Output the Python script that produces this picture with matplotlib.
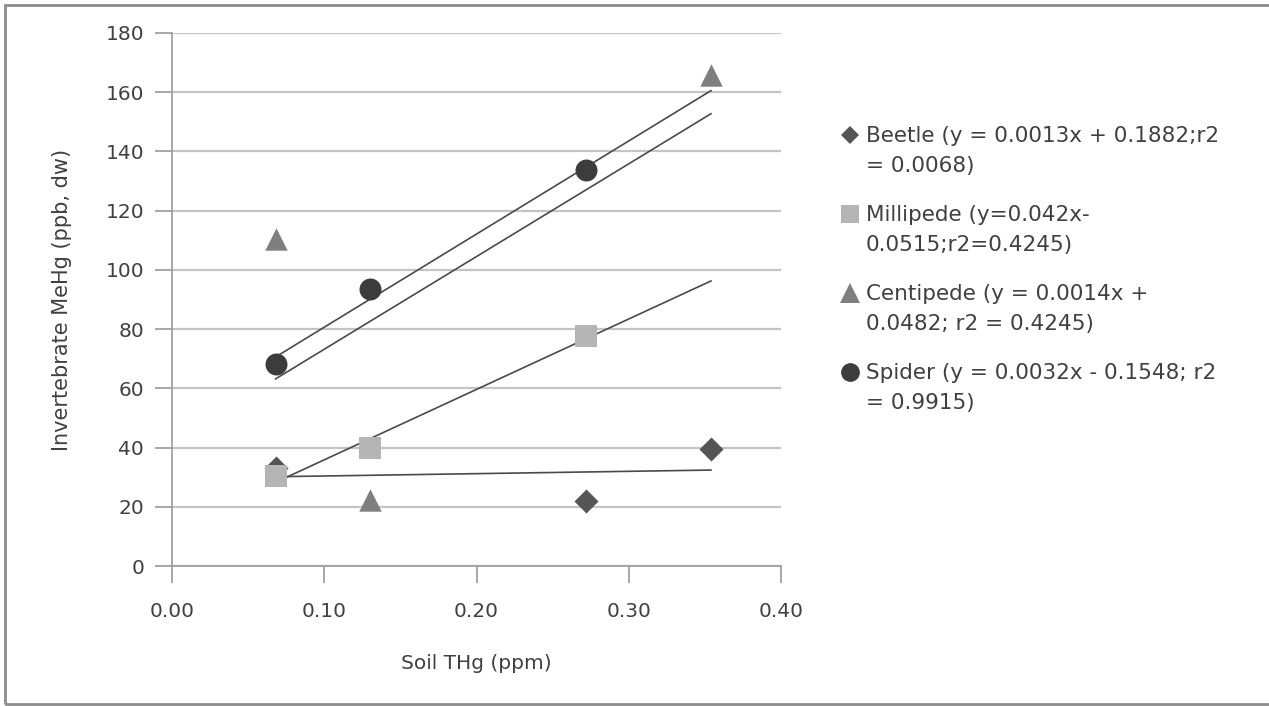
import numpy as np
import matplotlib.pyplot as plt
from matplotlib.lines import Line2D
from matplotlib.patches import Rectangle

# Data
soil_beetle = [0.068, 0.272, 0.354]
mehg_beetle = [33.0, 21.8, 39.5]

soil_millipede = [0.068, 0.130, 0.272]
mehg_millipede = [30.4, 39.9, 77.7]

soil_centipede = [0.068, 0.130, 0.354]
mehg_centipede = [110.4, 22.3, 165.8]

soil_spider = [0.068, 0.130, 0.272]
mehg_spider = [68.2, 93.5, 133.7]

trend_x = [0.068, 0.354]

labels = ['Beetle (y = 0.0013x + 0.1882;r2\n= 0.0068)',
          'Millipede (y=0.042x-\n0.0515;r2=0.4245)',
          'Centipede (y = 0.0014x +\n0.0482; r2 = 0.4245)',
          'Spider (y = 0.0032x - 0.1548; r2\n= 0.9915)']

# Style Variables
TrendStyle = {'linewidth': 1.2, 'linestyle': '-', 'color': '#4a4a4a', 'zorder': 2}
FontName = 'DejaVu Sans'
TextColor = '#404040'
W, H = 1269, 706

series = [
    (soil_beetle, mehg_beetle, {'marker': 'D', 'color': '#555555', 's': 150}, 9),
    (soil_millipede, mehg_millipede, {'marker': 's', 'color': '#b4b4b4', 's': 240}, 13),
    (soil_centipede, mehg_centipede, {'marker': '^', 'color': '#7f7f7f', 's': 260}, 15),
    (soil_spider, mehg_spider, {'marker': 'o', 'color': '#3c3c3c', 's': 250}, 13.5),
]

fig = plt.figure(figsize=(W / 100, H / 100), dpi=100)
ax = fig.add_axes([172 / W, 1 - 566 / H, (781 - 172) / W, (566 - 33) / H])

for sx, sy, style, ms in series:
    ax.scatter(sx, sy, zorder=3, linewidths=0, **style)

# linear trendlines over the shared x range
for sx, sy, style, ms in series:
    k, b = np.polyfit(sx, sy, 1)
    tx = np.array(trend_x)
    ax.plot(tx, k * tx + b, **TrendStyle)

ax.set_xlim(0, 0.4)
ax.set_ylim(0, 180)
ax.set_xticks(np.arange(0, 0.41, 0.1))
ax.set_yticks(np.arange(0, 181, 20))
ax.set_xticklabels(['%.2f' % v for v in np.arange(0, 0.41, 0.1)])
ax.yaxis.grid(True, color='#c4c4c4', linewidth=1.6)
ax.set_axisbelow(True)

for side in ['top', 'right']:
    ax.spines[side].set_visible(False)
for side in ['left', 'bottom']:
    ax.spines[side].set_color('#9a9a9a')
    ax.spines[side].set_linewidth(1.2)

ax.tick_params(axis='both', direction='out', length=12, width=1.2, color='#9a9a9a',
               labelsize=14.5, labelcolor=TextColor)
ax.tick_params(axis='y', pad=8)
ax.tick_params(axis='x', pad=14)
for t in ax.get_xticklabels() + ax.get_yticklabels():
    t.set_fontfamily(FontName)

ax.set_xlabel('Soil THg (ppm)', fontsize=14.5, fontfamily=FontName, color=TextColor, labelpad=24)
ax.set_ylabel('Invertebrate MeHg (ppb, dw)', fontsize=15, fontfamily=FontName,
              color=TextColor, labelpad=24)

# legend: marker next to the first line of each two-line entry
for i, (label, (sx, sy, style, ms)) in enumerate(zip(labels, series)):
    y_mid = 135 + 79 * i
    fig.add_artist(Line2D([850 / W], [1 - y_mid / H], marker=style['marker'], markersize=ms,
                          color=style['color'], markeredgewidth=0, linestyle='none',
                          transform=fig.transFigure))
    fig.text(866 / W, 1 - (y_mid - 9) / H, label, ha='left', va='top', fontsize=15.5,
             fontfamily=FontName, color=TextColor, linespacing=1.6)

# outer chart frame
fig.patches.append(Rectangle((5 / W, 2 / H), 1.1, 699 / H, transform=fig.transFigure,
                             fill=False, edgecolor='#8c8c8c', linewidth=2))

fig.savefig('out.png', dpi=100)
